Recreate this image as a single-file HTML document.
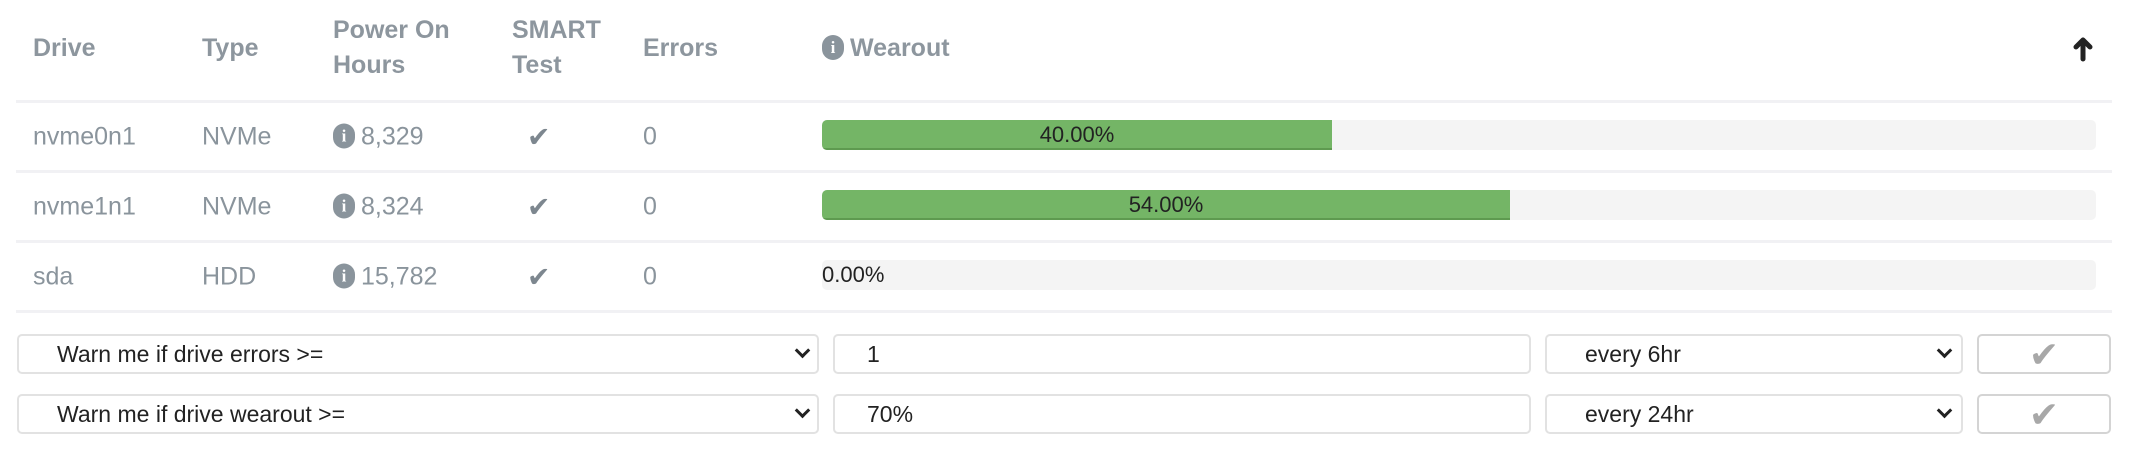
<!DOCTYPE html>
<html><head><meta charset="utf-8"><style>
body{margin:0;width:2130px;height:462px;background:#fff;font-family:"Liberation Sans",sans-serif;position:relative;overflow:hidden}
.a{position:absolute;white-space:nowrap}
.h{color:#8d969e;font-weight:bold;font-size:25px;line-height:35px}
.d{color:#8a949c;font-size:25px;transform:translateY(-50%)}
.line{position:absolute;left:16px;width:2096px;height:3px;background:#f1f1f4}
.bar{position:absolute;left:822px;width:1274px;height:30px;background:#f4f4f4;border-radius:5px;overflow:hidden}
.g{position:absolute;left:0;top:0;height:28px;background:#74b566;border-bottom:2px solid #5e9a50;text-align:center;font-size:22px;line-height:30px;color:#222}
.box{position:absolute;border:2px solid #e2e2e2;border-radius:5px;box-sizing:border-box;height:40px;font-size:23px;color:#222;line-height:36px}
.ic{display:inline-block;width:22px;height:25px;border-radius:11px;background:#8a949c;color:#fff;font-size:17px;line-height:25px;text-align:center;font-weight:bold;font-family:"Liberation Serif",serif;vertical-align:middle;position:relative;top:-2px;margin-right:6px}
.chk{color:#7d878f;font-size:28px}
.chev{position:absolute;top:9px;width:8px;height:8px;border-right:3px solid #222;border-bottom:3px solid #222;transform:rotate(45deg)}
.btn{position:absolute;border:2px solid #d4d4d4;border-radius:5px;box-sizing:border-box;height:40px;text-align:center;color:#a8a8a8;font-size:36px;line-height:38px}
</style></head><body>
<div class="a h" style="left:33px;top:31px">Drive</div>
<div class="a h" style="left:202px;top:31px">Type</div>
<div class="a h" style="left:333px;top:13px">Power On<br>Hours</div>
<div class="a h" style="left:512px;top:13px">SMART<br>Test</div>
<div class="a h" style="left:643px;top:31px">Errors</div>
<div class="a h" style="left:822px;top:31px"><span class="ic">i</span>Wearout</div>
<svg class="a" style="left:2072px;top:36px" width="22" height="26" viewBox="0 0 22 26"><path d="M11 4 L11 23 M4 11 L11 4 L18 11" stroke="#222" stroke-width="5" fill="none" stroke-linecap="round" stroke-linejoin="round"/></svg>

<div class="line" style="top:100px"></div>
<div class="line" style="top:170px"></div>
<div class="line" style="top:240px"></div>
<div class="line" style="top:310px"></div>

<div class="a d" style="left:33px;top:137px">nvme0n1</div>
<div class="a d" style="left:202px;top:137px">NVMe</div>
<div class="a d" style="left:333px;top:137px"><span class="ic">i</span>8,329</div>
<div class="a d chk" style="left:527px;top:137px">✔</div>
<div class="a d" style="left:643px;top:137px">0</div>
<div class="bar" style="top:120px"><div class="g" style="width:510px">40.00%</div></div>

<div class="a d" style="left:33px;top:207px">nvme1n1</div>
<div class="a d" style="left:202px;top:207px">NVMe</div>
<div class="a d" style="left:333px;top:207px"><span class="ic">i</span>8,324</div>
<div class="a d chk" style="left:527px;top:207px">✔</div>
<div class="a d" style="left:643px;top:207px">0</div>
<div class="bar" style="top:190px"><div class="g" style="width:688px">54.00%</div></div>

<div class="a d" style="left:33px;top:277px">sda</div>
<div class="a d" style="left:202px;top:277px">HDD</div>
<div class="a d" style="left:333px;top:277px"><span class="ic">i</span>15,782</div>
<div class="a d chk" style="left:527px;top:277px">✔</div>
<div class="a d" style="left:643px;top:277px">0</div>
<div class="bar" style="top:260px"><div style="position:absolute;left:0;top:0;font-size:22px;line-height:30px;color:#222">0.00%</div></div>

<div class="box" style="left:17px;top:334px;width:802px;padding-left:38px">Warn me if drive errors &gt;=<div class="chev" style="left:778px"></div></div>
<div class="box" style="left:833px;top:334px;width:698px;padding-left:32px">1</div>
<div class="box" style="left:1545px;top:334px;width:418px;padding-left:38px">every 6hr<div class="chev" style="left:392px"></div></div>
<div class="btn" style="left:1977px;top:334px;width:134px">✔</div>

<div class="box" style="left:17px;top:394px;width:802px;padding-left:38px">Warn me if drive wearout &gt;=<div class="chev" style="left:778px"></div></div>
<div class="box" style="left:833px;top:394px;width:698px;padding-left:32px">70%</div>
<div class="box" style="left:1545px;top:394px;width:418px;padding-left:38px">every 24hr<div class="chev" style="left:392px"></div></div>
<div class="btn" style="left:1977px;top:394px;width:134px">✔</div>
</body></html>
